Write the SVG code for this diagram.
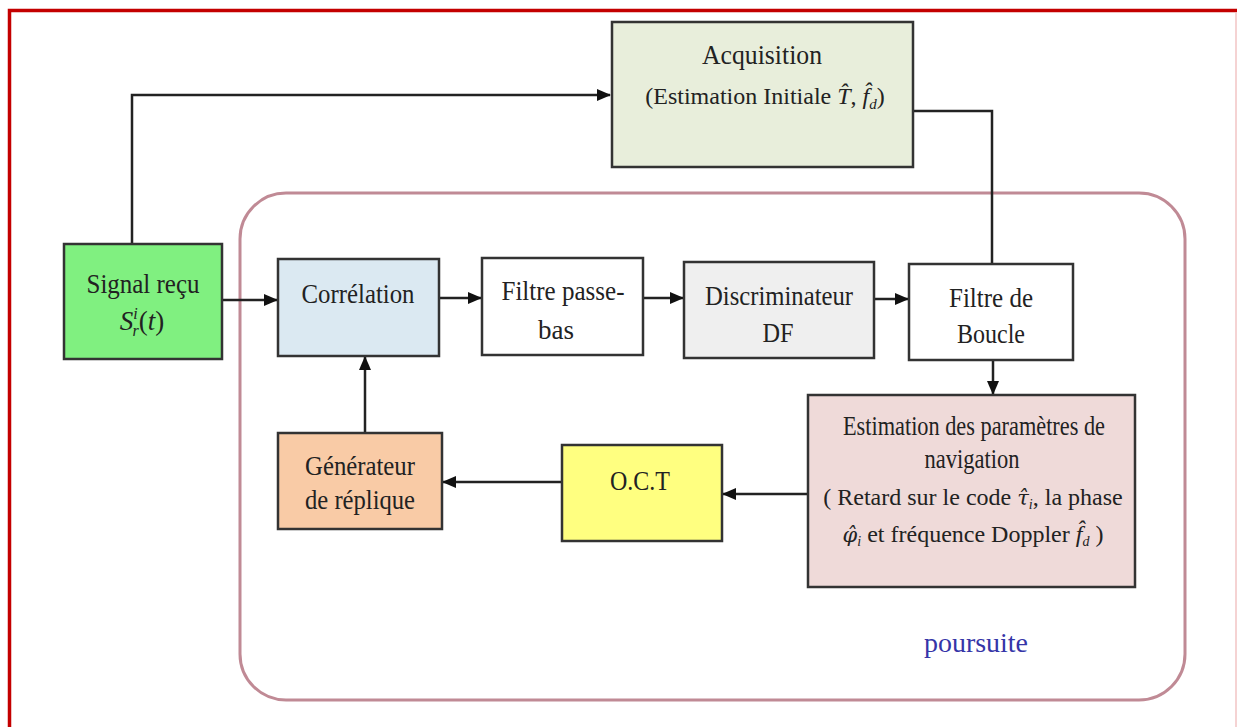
<svg xmlns="http://www.w3.org/2000/svg" width="1237" height="727" viewBox="0 0 1237 727">
<style>
.box{stroke:#333;stroke-width:2.5}
.t{font-family:"Liberation Serif","Times New Roman",serif;font-size:27px;fill:#222;text-anchor:middle}
.m{font-size:24px}
.it{font-style:italic}
.g{font-family:"DejaVu Serif",serif;font-style:italic;font-size:21px}
.c{fill:none;stroke:#222;stroke-width:2.5}
</style>
<defs>
<marker id="ah" markerWidth="14" markerHeight="12" refX="13" refY="6" orient="auto" markerUnits="userSpaceOnUse">
<path d="M0,0 L14,6 L0,12 Z" fill="#111"/>
</marker>
</defs>
<rect width="1237" height="727" fill="#fff"/>
<path d="M9.5,740 L9.5,10.5 L1250,10.5" fill="none" stroke="#c40000" stroke-width="3.5"/>
<line x1="1236" y1="13" x2="1236" y2="727" stroke="#f2c4c4" stroke-width="1.5"/>

<g id="poursuite">
<rect x="240" y="193" width="945" height="507" rx="46" ry="46" fill="none" stroke="#c08a95" stroke-width="3"/>
<text class="t" x="976" y="652" style="fill:#3535a8" textLength="104" lengthAdjust="spacingAndGlyphs">poursuite</text>
</g>

<g id="connectors">
<polyline class="c" points="132,244 132,95 610,95" marker-end="url(#ah)"/>
<polyline class="c" points="913,111 992,111 992,263"/>
<line class="c" x1="222" y1="300" x2="277" y2="300" marker-end="url(#ah)"/>
<line class="c" x1="439" y1="298" x2="481" y2="298" marker-end="url(#ah)"/>
<line class="c" x1="643" y1="298" x2="683" y2="298" marker-end="url(#ah)"/>
<line class="c" x1="874" y1="299" x2="908" y2="299" marker-end="url(#ah)"/>
<line class="c" x1="993" y1="360" x2="993" y2="394" marker-end="url(#ah)"/>
<line class="c" x1="808" y1="494" x2="723" y2="494" marker-end="url(#ah)"/>
<line class="c" x1="562" y1="482" x2="443" y2="482" marker-end="url(#ah)"/>
<line class="c" x1="365" y1="433" x2="365" y2="357" marker-end="url(#ah)"/>
</g>

<g id="acquisition">
<rect class="box" x="612" y="22" width="301" height="145" fill="#e8eedb"/>
<text class="t" x="762" y="64" textLength="120" lengthAdjust="spacingAndGlyphs">Acquisition</text>
<text class="t m" x="765" y="104">(Estimation Initiale <tspan class="it">T&#x302;</tspan>, <tspan class="it">f&#x302;</tspan><tspan class="it" font-size="15" dy="5">d</tspan><tspan dy="-5">)</tspan></text>
</g>

<g id="signal">
<rect class="box" x="64" y="244" width="158" height="115" fill="#80f080"/>
<text class="t" x="143" y="293" textLength="113" lengthAdjust="spacingAndGlyphs">Signal reçu</text>
<text class="t" x="142" y="330"><tspan class="it">S</tspan><tspan class="it" font-size="16" dy="-11">i</tspan><tspan class="it" font-size="16" dx="-5" dy="17">r</tspan><tspan dy="-6">(</tspan><tspan class="it">t</tspan>)</text>
</g>

<g id="correlation">
<rect class="box" x="278" y="259" width="161" height="97" fill="#dbe9f2"/>
<text class="t" x="358" y="303" textLength="113" lengthAdjust="spacingAndGlyphs">Corrélation</text>
</g>

<g id="filtre-passe-bas">
<rect class="box" x="482" y="258" width="161" height="97" fill="#fff"/>
<text class="t" x="563" y="300" textLength="123" lengthAdjust="spacingAndGlyphs">Filtre passe-</text>
<text class="t" x="556" y="339">bas</text>
</g>

<g id="discriminateur">
<rect class="box" x="684" y="262" width="190" height="96" fill="#efefef"/>
<text class="t" x="779" y="305" textLength="148" lengthAdjust="spacingAndGlyphs">Discriminateur</text>
<text class="t" x="778" y="342" textLength="31" lengthAdjust="spacingAndGlyphs">DF</text>
</g>

<g id="filtre-boucle">
<rect class="box" x="909" y="264" width="164" height="96" fill="#fff"/>
<text class="t" x="991" y="307" textLength="84" lengthAdjust="spacingAndGlyphs">Filtre de</text>
<text class="t" x="991" y="343" textLength="68" lengthAdjust="spacingAndGlyphs">Boucle</text>
</g>

<g id="estimation">
<rect class="box" x="808" y="395" width="327" height="192" fill="#efdad9"/>
<text class="t" x="974" y="435" textLength="262" lengthAdjust="spacingAndGlyphs">Estimation des paramètres de</text>
<text class="t" x="972" y="468" textLength="95" lengthAdjust="spacingAndGlyphs">navigation</text>
<text class="t m" x="973" y="505">( Retard sur le code <tspan class="g">τ&#x302;</tspan><tspan class="it" font-size="14" dy="4">i</tspan><tspan dy="-4">, la phase</tspan></text>
<text class="t m" x="973" y="542"><tspan class="g">φ&#x302;</tspan><tspan class="it" font-size="14" dy="4">i</tspan><tspan dy="-4"> et fréquence Doppler </tspan><tspan class="it">f&#x302;</tspan><tspan class="it" font-size="14" dy="4">d</tspan><tspan dy="-4"> )</tspan></text>
</g>

<g id="oct">
<rect class="box" x="562" y="445" width="160" height="96" fill="#ffff80"/>
<text class="t" x="640" y="490" textLength="60" lengthAdjust="spacingAndGlyphs">O.C.T</text>
</g>

<g id="generateur">
<rect class="box" x="278" y="433" width="164" height="96" fill="#f9cba6"/>
<text class="t" x="360" y="475" textLength="110" lengthAdjust="spacingAndGlyphs">Générateur</text>
<text class="t" x="360" y="509" textLength="110" lengthAdjust="spacingAndGlyphs">de réplique</text>
</g>
</svg>
